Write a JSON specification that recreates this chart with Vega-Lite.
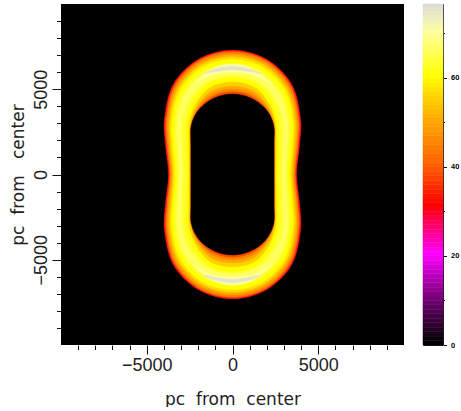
{"$schema":"https://vega.github.io/schema/vega-lite/v6.json","padding":{"left":9,"top":3,"right":0,"bottom":0},"background":"white","spacing":18,
"config":{"concat":{"spacing":18},"axis":{"grid":false,"domain":false,"labelFont":"Liberation Sans","titleFont":"DejaVu Sans","titleFontWeight":"normal","labelColor":"#222","titleColor":"#222","tickColor":"#111"}},
"hconcat":[
{"width":343,"height":341,"view":{"fill":"black","stroke":null},
"data":{"values":[
{"c":1,"v":28,"o":0,"x":3730,"y":0},{"c":1,"v":28,"o":1,"x":3910,"y":1750},{"c":1,"v":28,"o":2,"x":3960,"y":3320},{"c":1,"v":28,"o":3,"x":3440,"y":5310},{"c":1,"v":28,"o":4,"x":1980,"y":6760},{"c":1,"v":28,"o":5,"x":0,"y":7290},{"c":1,"v":28,"o":6,"x":-1980,"y":6760},{"c":1,"v":28,"o":7,"x":-3440,"y":5310},{"c":1,"v":28,"o":8,"x":-3960,"y":3320},{"c":1,"v":28,"o":9,"x":-3910,"y":1750},{"c":1,"v":28,"o":10,"x":-3730,"y":0},{"c":1,"v":28,"o":11,"x":-3910,"y":-1750},{"c":1,"v":28,"o":12,"x":-3960,"y":-3320},{"c":1,"v":28,"o":13,"x":-3440,"y":-5310},{"c":1,"v":28,"o":14,"x":-1980,"y":-6760},{"c":1,"v":28,"o":15,"x":0,"y":-7290},{"c":1,"v":28,"o":16,"x":1980,"y":-6760},{"c":1,"v":28,"o":17,"x":3440,"y":-5310},{"c":1,"v":28,"o":18,"x":3960,"y":-3320},{"c":1,"v":28,"o":19,"x":3910,"y":-1750},
{"c":2,"v":36,"o":0,"x":3690,"y":0},{"c":2,"v":36,"o":1,"x":3865,"y":1750},{"c":2,"v":36,"o":2,"x":3913,"y":3308},{"c":2,"v":36,"o":3,"x":3404,"y":5275},{"c":2,"v":36,"o":4,"x":1966,"y":6726},{"c":2,"v":36,"o":5,"x":0,"y":7251},{"c":2,"v":36,"o":6,"x":-1966,"y":6726},{"c":2,"v":36,"o":7,"x":-3404,"y":5275},{"c":2,"v":36,"o":8,"x":-3913,"y":3308},{"c":2,"v":36,"o":9,"x":-3865,"y":1750},{"c":2,"v":36,"o":10,"x":-3690,"y":0},{"c":2,"v":36,"o":11,"x":-3865,"y":-1750},{"c":2,"v":36,"o":12,"x":-3913,"y":-3308},{"c":2,"v":36,"o":13,"x":-3404,"y":-5275},{"c":2,"v":36,"o":14,"x":-1966,"y":-6726},{"c":2,"v":36,"o":15,"x":0,"y":-7251},{"c":2,"v":36,"o":16,"x":1966,"y":-6726},{"c":2,"v":36,"o":17,"x":3404,"y":-5275},{"c":2,"v":36,"o":18,"x":3913,"y":-3308},{"c":2,"v":36,"o":19,"x":3865,"y":-1750},
{"c":3,"v":44,"o":0,"x":3638,"y":0},{"c":3,"v":44,"o":1,"x":3806,"y":1750},{"c":3,"v":44,"o":2,"x":3850,"y":3292},{"c":3,"v":44,"o":3,"x":3352,"y":5225},{"c":3,"v":44,"o":4,"x":1943,"y":6669},{"c":3,"v":44,"o":5,"x":0,"y":7187},{"c":3,"v":44,"o":6,"x":-1943,"y":6669},{"c":3,"v":44,"o":7,"x":-3352,"y":5225},{"c":3,"v":44,"o":8,"x":-3850,"y":3292},{"c":3,"v":44,"o":9,"x":-3806,"y":1750},{"c":3,"v":44,"o":10,"x":-3638,"y":0},{"c":3,"v":44,"o":11,"x":-3806,"y":-1750},{"c":3,"v":44,"o":12,"x":-3850,"y":-3292},{"c":3,"v":44,"o":13,"x":-3352,"y":-5225},{"c":3,"v":44,"o":14,"x":-1943,"y":-6669},{"c":3,"v":44,"o":15,"x":0,"y":-7187},{"c":3,"v":44,"o":16,"x":1943,"y":-6669},{"c":3,"v":44,"o":17,"x":3352,"y":-5225},{"c":3,"v":44,"o":18,"x":3850,"y":-3292},{"c":3,"v":44,"o":19,"x":3806,"y":-1750},
{"c":4,"v":50,"o":0,"x":3560,"y":0},{"c":4,"v":50,"o":1,"x":3716,"y":1750},{"c":4,"v":50,"o":2,"x":3756,"y":3268},{"c":4,"v":50,"o":3,"x":3267,"y":5144},{"c":4,"v":50,"o":4,"x":1896,"y":6556},{"c":4,"v":50,"o":5,"x":0,"y":7059},{"c":4,"v":50,"o":6,"x":-1896,"y":6556},{"c":4,"v":50,"o":7,"x":-3267,"y":5144},{"c":4,"v":50,"o":8,"x":-3756,"y":3268},{"c":4,"v":50,"o":9,"x":-3716,"y":1750},{"c":4,"v":50,"o":10,"x":-3560,"y":0},{"c":4,"v":50,"o":11,"x":-3716,"y":-1750},{"c":4,"v":50,"o":12,"x":-3756,"y":-3268},{"c":4,"v":50,"o":13,"x":-3267,"y":-5144},{"c":4,"v":50,"o":14,"x":-1896,"y":-6556},{"c":4,"v":50,"o":15,"x":0,"y":-7059},{"c":4,"v":50,"o":16,"x":1896,"y":-6556},{"c":4,"v":50,"o":17,"x":3267,"y":-5144},{"c":4,"v":50,"o":18,"x":3756,"y":-3268},{"c":4,"v":50,"o":19,"x":3716,"y":-1750},
{"c":5,"v":56,"o":0,"x":3468,"y":0},{"c":5,"v":56,"o":1,"x":3612,"y":1750},{"c":5,"v":56,"o":2,"x":3646,"y":3240},{"c":5,"v":56,"o":3,"x":3166,"y":5047},{"c":5,"v":56,"o":4,"x":1840,"y":6420},{"c":5,"v":56,"o":5,"x":0,"y":6905},{"c":5,"v":56,"o":6,"x":-1840,"y":6420},{"c":5,"v":56,"o":7,"x":-3166,"y":5047},{"c":5,"v":56,"o":8,"x":-3646,"y":3240},{"c":5,"v":56,"o":9,"x":-3612,"y":1750},{"c":5,"v":56,"o":10,"x":-3468,"y":0},{"c":5,"v":56,"o":11,"x":-3612,"y":-1750},{"c":5,"v":56,"o":12,"x":-3646,"y":-3240},{"c":5,"v":56,"o":13,"x":-3166,"y":-5047},{"c":5,"v":56,"o":14,"x":-1840,"y":-6420},{"c":5,"v":56,"o":15,"x":0,"y":-6905},{"c":5,"v":56,"o":16,"x":1840,"y":-6420},{"c":5,"v":56,"o":17,"x":3166,"y":-5047},{"c":5,"v":56,"o":18,"x":3646,"y":-3240},{"c":5,"v":56,"o":19,"x":3612,"y":-1750},
{"c":6,"v":60,"o":0,"x":3363,"y":0},{"c":6,"v":60,"o":1,"x":3493,"y":1750},{"c":6,"v":60,"o":2,"x":3520,"y":3208},{"c":6,"v":60,"o":3,"x":3060,"y":4945},{"c":6,"v":60,"o":4,"x":1785,"y":6283},{"c":6,"v":60,"o":5,"x":0,"y":6750},{"c":6,"v":60,"o":6,"x":-1785,"y":6283},{"c":6,"v":60,"o":7,"x":-3060,"y":4945},{"c":6,"v":60,"o":8,"x":-3520,"y":3208},{"c":6,"v":60,"o":9,"x":-3493,"y":1750},{"c":6,"v":60,"o":10,"x":-3363,"y":0},{"c":6,"v":60,"o":11,"x":-3493,"y":-1750},{"c":6,"v":60,"o":12,"x":-3520,"y":-3208},{"c":6,"v":60,"o":13,"x":-3060,"y":-4945},{"c":6,"v":60,"o":14,"x":-1785,"y":-6283},{"c":6,"v":60,"o":15,"x":0,"y":-6750},{"c":6,"v":60,"o":16,"x":1785,"y":-6283},{"c":6,"v":60,"o":17,"x":3060,"y":-4945},{"c":6,"v":60,"o":18,"x":3520,"y":-3208},{"c":6,"v":60,"o":19,"x":3493,"y":-1750},
{"c":7,"v":63,"o":0,"x":3232,"y":0},{"c":7,"v":63,"o":1,"x":3344,"y":1750},{"c":7,"v":63,"o":2,"x":3363,"y":3168},{"c":7,"v":63,"o":3,"x":2908,"y":4799},{"c":7,"v":63,"o":4,"x":1701,"y":6079},{"c":7,"v":63,"o":5,"x":0,"y":6519},{"c":7,"v":63,"o":6,"x":-1701,"y":6079},{"c":7,"v":63,"o":7,"x":-2908,"y":4799},{"c":7,"v":63,"o":8,"x":-3363,"y":3168},{"c":7,"v":63,"o":9,"x":-3344,"y":1750},{"c":7,"v":63,"o":10,"x":-3232,"y":0},{"c":7,"v":63,"o":11,"x":-3344,"y":-1750},{"c":7,"v":63,"o":12,"x":-3363,"y":-3168},{"c":7,"v":63,"o":13,"x":-2908,"y":-4799},{"c":7,"v":63,"o":14,"x":-1701,"y":-6079},{"c":7,"v":63,"o":15,"x":0,"y":-6519},{"c":7,"v":63,"o":16,"x":1701,"y":-6079},{"c":7,"v":63,"o":17,"x":2908,"y":-4799},{"c":7,"v":63,"o":18,"x":3363,"y":-3168},{"c":7,"v":63,"o":19,"x":3344,"y":-1750},
{"c":8,"v":66,"o":0,"x":3114,"y":0},{"c":8,"v":66,"o":1,"x":3210,"y":1750},{"c":8,"v":66,"o":2,"x":3222,"y":3132},{"c":8,"v":66,"o":3,"x":2786,"y":4682},{"c":8,"v":66,"o":4,"x":1627,"y":5897},{"c":8,"v":66,"o":5,"x":0,"y":6313},{"c":8,"v":66,"o":6,"x":-1627,"y":5897},{"c":8,"v":66,"o":7,"x":-2786,"y":4682},{"c":8,"v":66,"o":8,"x":-3222,"y":3132},{"c":8,"v":66,"o":9,"x":-3210,"y":1750},{"c":8,"v":66,"o":10,"x":-3114,"y":0},{"c":8,"v":66,"o":11,"x":-3210,"y":-1750},{"c":8,"v":66,"o":12,"x":-3222,"y":-3132},{"c":8,"v":66,"o":13,"x":-2786,"y":-4682},{"c":8,"v":66,"o":14,"x":-1627,"y":-5897},{"c":8,"v":66,"o":15,"x":0,"y":-6313},{"c":8,"v":66,"o":16,"x":1627,"y":-5897},{"c":8,"v":66,"o":17,"x":2786,"y":-4682},{"c":8,"v":66,"o":18,"x":3222,"y":-3132},{"c":8,"v":66,"o":19,"x":3210,"y":-1750},
{"c":9,"v":63,"o":0,"x":2865,"y":0},{"c":9,"v":63,"o":1,"x":2927,"y":1750},{"c":9,"v":63,"o":2,"x":2924,"y":3056},{"c":9,"v":63,"o":3,"x":2482,"y":4390},{"c":9,"v":63,"o":4,"x":1441,"y":5443},{"c":9,"v":63,"o":5,"x":0,"y":5799},{"c":9,"v":63,"o":6,"x":-1441,"y":5443},{"c":9,"v":63,"o":7,"x":-2482,"y":4390},{"c":9,"v":63,"o":8,"x":-2924,"y":3056},{"c":9,"v":63,"o":9,"x":-2927,"y":1750},{"c":9,"v":63,"o":10,"x":-2865,"y":0},{"c":9,"v":63,"o":11,"x":-2927,"y":-1750},{"c":9,"v":63,"o":12,"x":-2924,"y":-3056},{"c":9,"v":63,"o":13,"x":-2482,"y":-4390},{"c":9,"v":63,"o":14,"x":-1441,"y":-5443},{"c":9,"v":63,"o":15,"x":0,"y":-5799},{"c":9,"v":63,"o":16,"x":1441,"y":-5443},{"c":9,"v":63,"o":17,"x":2482,"y":-4390},{"c":9,"v":63,"o":18,"x":2924,"y":-3056},{"c":9,"v":63,"o":19,"x":2927,"y":-1750},
{"c":10,"v":60,"o":0,"x":2656,"y":0},{"c":10,"v":60,"o":1,"x":2688,"y":1750},{"c":10,"v":60,"o":2,"x":2673,"y":2992},{"c":10,"v":60,"o":3,"x":2315,"y":4230},{"c":10,"v":60,"o":4,"x":1394,"y":5330},{"c":10,"v":60,"o":5,"x":0,"y":5671},{"c":10,"v":60,"o":6,"x":-1394,"y":5330},{"c":10,"v":60,"o":7,"x":-2315,"y":4230},{"c":10,"v":60,"o":8,"x":-2673,"y":2992},{"c":10,"v":60,"o":9,"x":-2688,"y":1750},{"c":10,"v":60,"o":10,"x":-2656,"y":0},{"c":10,"v":60,"o":11,"x":-2688,"y":-1750},{"c":10,"v":60,"o":12,"x":-2673,"y":-2992},{"c":10,"v":60,"o":13,"x":-2315,"y":-4230},{"c":10,"v":60,"o":14,"x":-1394,"y":-5330},{"c":10,"v":60,"o":15,"x":0,"y":-5671},{"c":10,"v":60,"o":16,"x":1394,"y":-5330},{"c":10,"v":60,"o":17,"x":2315,"y":-4230},{"c":10,"v":60,"o":18,"x":2673,"y":-2992},{"c":10,"v":60,"o":19,"x":2688,"y":-1750},
{"c":11,"v":55,"o":0,"x":2525,"y":0},{"c":11,"v":55,"o":1,"x":2539,"y":1750},{"c":11,"v":55,"o":2,"x":2516,"y":2952},{"c":11,"v":55,"o":3,"x":2163,"y":4084},{"c":11,"v":55,"o":4,"x":1301,"y":5103},{"c":11,"v":55,"o":5,"x":0,"y":5414},{"c":11,"v":55,"o":6,"x":-1301,"y":5103},{"c":11,"v":55,"o":7,"x":-2163,"y":4084},{"c":11,"v":55,"o":8,"x":-2516,"y":2952},{"c":11,"v":55,"o":9,"x":-2539,"y":1750},{"c":11,"v":55,"o":10,"x":-2525,"y":0},{"c":11,"v":55,"o":11,"x":-2539,"y":-1750},{"c":11,"v":55,"o":12,"x":-2516,"y":-2952},{"c":11,"v":55,"o":13,"x":-2163,"y":-4084},{"c":11,"v":55,"o":14,"x":-1301,"y":-5103},{"c":11,"v":55,"o":15,"x":0,"y":-5414},{"c":11,"v":55,"o":16,"x":1301,"y":-5103},{"c":11,"v":55,"o":17,"x":2163,"y":-4084},{"c":11,"v":55,"o":18,"x":2516,"y":-2952},{"c":11,"v":55,"o":19,"x":2539,"y":-1750},
{"c":12,"v":50,"o":0,"x":2459,"y":0},{"c":12,"v":50,"o":1,"x":2465,"y":1750},{"c":12,"v":50,"o":2,"x":2437,"y":2932},{"c":12,"v":50,"o":3,"x":2057,"y":3981},{"c":12,"v":50,"o":4,"x":1217,"y":4899},{"c":12,"v":50,"o":5,"x":0,"y":5183},{"c":12,"v":50,"o":6,"x":-1217,"y":4899},{"c":12,"v":50,"o":7,"x":-2057,"y":3981},{"c":12,"v":50,"o":8,"x":-2437,"y":2932},{"c":12,"v":50,"o":9,"x":-2465,"y":1750},{"c":12,"v":50,"o":10,"x":-2459,"y":0},{"c":12,"v":50,"o":11,"x":-2465,"y":-1750},{"c":12,"v":50,"o":12,"x":-2437,"y":-2932},{"c":12,"v":50,"o":13,"x":-2057,"y":-3981},{"c":12,"v":50,"o":14,"x":-1217,"y":-4899},{"c":12,"v":50,"o":15,"x":0,"y":-5183},{"c":12,"v":50,"o":16,"x":1217,"y":-4899},{"c":12,"v":50,"o":17,"x":2057,"y":-3981},{"c":12,"v":50,"o":18,"x":2437,"y":-2932},{"c":12,"v":50,"o":19,"x":2465,"y":-1750},
{"c":13,"v":45,"o":0,"x":2433,"y":0},{"c":13,"v":45,"o":1,"x":2435,"y":1750},{"c":13,"v":45,"o":2,"x":2405,"y":2924},{"c":13,"v":45,"o":3,"x":1996,"y":3923},{"c":13,"v":45,"o":4,"x":1152,"y":4740},{"c":13,"v":45,"o":5,"x":0,"y":5003},{"c":13,"v":45,"o":6,"x":-1152,"y":4740},{"c":13,"v":45,"o":7,"x":-1996,"y":3923},{"c":13,"v":45,"o":8,"x":-2405,"y":2924},{"c":13,"v":45,"o":9,"x":-2435,"y":1750},{"c":13,"v":45,"o":10,"x":-2433,"y":0},{"c":13,"v":45,"o":11,"x":-2435,"y":-1750},{"c":13,"v":45,"o":12,"x":-2405,"y":-2924},{"c":13,"v":45,"o":13,"x":-1996,"y":-3923},{"c":13,"v":45,"o":14,"x":-1152,"y":-4740},{"c":13,"v":45,"o":15,"x":0,"y":-5003},{"c":13,"v":45,"o":16,"x":1152,"y":-4740},{"c":13,"v":45,"o":17,"x":1996,"y":-3923},{"c":13,"v":45,"o":18,"x":2405,"y":-2924},{"c":13,"v":45,"o":19,"x":2435,"y":-1750},
{"c":14,"v":38,"o":0,"x":2425,"y":0},{"c":14,"v":38,"o":1,"x":2425,"y":1750},{"c":14,"v":38,"o":2,"x":2397,"y":2922},{"c":14,"v":38,"o":3,"x":1950,"y":3879},{"c":14,"v":38,"o":4,"x":1096,"y":4603},{"c":14,"v":38,"o":5,"x":0,"y":4849},{"c":14,"v":38,"o":6,"x":-1096,"y":4603},{"c":14,"v":38,"o":7,"x":-1950,"y":3879},{"c":14,"v":38,"o":8,"x":-2397,"y":2922},{"c":14,"v":38,"o":9,"x":-2425,"y":1750},{"c":14,"v":38,"o":10,"x":-2425,"y":0},{"c":14,"v":38,"o":11,"x":-2425,"y":-1750},{"c":14,"v":38,"o":12,"x":-2397,"y":-2922},{"c":14,"v":38,"o":13,"x":-1950,"y":-3879},{"c":14,"v":38,"o":14,"x":-1096,"y":-4603},{"c":14,"v":38,"o":15,"x":0,"y":-4849},{"c":14,"v":38,"o":16,"x":1096,"y":-4603},{"c":14,"v":38,"o":17,"x":1950,"y":-3879},{"c":14,"v":38,"o":18,"x":2397,"y":-2922},{"c":14,"v":38,"o":19,"x":2425,"y":-1750},
{"c":15,"v":0,"o":0,"x":2420,"y":0},{"c":15,"v":0,"o":1,"x":2420,"y":1750},{"c":15,"v":0,"o":2,"x":2390,"y":2920},{"c":15,"v":0,"o":3,"x":1920,"y":3850},{"c":15,"v":0,"o":4,"x":1050,"y":4490},{"c":15,"v":0,"o":5,"x":0,"y":4720},{"c":15,"v":0,"o":6,"x":-1050,"y":4490},{"c":15,"v":0,"o":7,"x":-1920,"y":3850},{"c":15,"v":0,"o":8,"x":-2390,"y":2920},{"c":15,"v":0,"o":9,"x":-2420,"y":1750},{"c":15,"v":0,"o":10,"x":-2420,"y":0},{"c":15,"v":0,"o":11,"x":-2420,"y":-1750},{"c":15,"v":0,"o":12,"x":-2390,"y":-2920},{"c":15,"v":0,"o":13,"x":-1920,"y":-3850},{"c":15,"v":0,"o":14,"x":-1050,"y":-4490},{"c":15,"v":0,"o":15,"x":0,"y":-4720},{"c":15,"v":0,"o":16,"x":1050,"y":-4490},{"c":15,"v":0,"o":17,"x":1920,"y":-3850},{"c":15,"v":0,"o":18,"x":2390,"y":-2920},{"c":15,"v":0,"o":19,"x":2420,"y":-1750},
{"c":18,"v":70,"o":0,"x":2300,"y":5300},{"c":18,"v":70,"o":1,"x":1200,"y":6180},{"c":18,"v":70,"o":2,"x":0,"y":6480},{"c":18,"v":70,"o":3,"x":-1200,"y":6180},{"c":18,"v":70,"o":4,"x":-2300,"y":5300},{"c":18,"v":70,"o":5,"x":-1200,"y":5880},{"c":18,"v":70,"o":6,"x":0,"y":6000},{"c":18,"v":70,"o":7,"x":1200,"y":5880},
{"c":19,"v":70,"o":0,"x":2300,"y":-5300},{"c":19,"v":70,"o":1,"x":1200,"y":-6180},{"c":19,"v":70,"o":2,"x":0,"y":-6480},{"c":19,"v":70,"o":3,"x":-1200,"y":-6180},{"c":19,"v":70,"o":4,"x":-2300,"y":-5300},{"c":19,"v":70,"o":5,"x":-1200,"y":-5880},{"c":19,"v":70,"o":6,"x":0,"y":-6000},{"c":19,"v":70,"o":7,"x":1200,"y":-5880},
{"c":16,"v":75,"o":0,"x":1680,"y":5920},{"c":16,"v":75,"o":1,"x":900,"y":6220},{"c":16,"v":75,"o":2,"x":0,"y":6350},{"c":16,"v":75,"o":3,"x":-900,"y":6220},{"c":16,"v":75,"o":4,"x":-1680,"y":5920},{"c":16,"v":75,"o":5,"x":-900,"y":6050},{"c":16,"v":75,"o":6,"x":0,"y":6150},{"c":16,"v":75,"o":7,"x":900,"y":6050},
{"c":17,"v":75,"o":0,"x":1600,"y":-5920},{"c":17,"v":75,"o":1,"x":900,"y":-6220},{"c":17,"v":75,"o":2,"x":0,"y":-6350},{"c":17,"v":75,"o":3,"x":-900,"y":-6220},{"c":17,"v":75,"o":4,"x":-1680,"y":-5920},{"c":17,"v":75,"o":5,"x":-900,"y":-6050},{"c":17,"v":75,"o":6,"x":0,"y":-6150},{"c":17,"v":75,"o":7,"x":900,"y":-6050}
]},
"mark":{"type":"line","interpolate":"cardinal-closed","strokeWidth":0.5,"clip":true},
"encoding":{
"x":{"field":"x","type":"quantitative","scale":{"domain":[-10000,10000],"nice":false,"zero":false},"axis":{"title":"pc\u00a0 from\u00a0 center","titleFontSize":17,"titlePadding":17,"values":[-9000,-8000,-7000,-6000,-5000,-4000,-3000,-2000,-1000,0,1000,2000,3000,4000,5000,6000,7000,8000,9000],"format":"d","labelExpr":"datum.value % 5000 == 0 ? datum.label : ''","labelFontSize":18,"labelPadding":2,"labelOverlap":false,"tickSize":{"expr":"datum.value % 5000 == 0 ? 9 : 4.5"},"tickWidth":1}},
"y":{"field":"y","type":"quantitative","scale":{"domain":[-10000,10000],"nice":false,"zero":false},"axis":{"title":"pc\u00a0 from\u00a0\u00a0 center","titleFontSize":17,"titlePadding":5,"values":[-9000,-8000,-7000,-6000,-5000,-4000,-3000,-2000,-1000,0,1000,2000,3000,4000,5000,6000,7000,8000,9000],"format":"d","labelExpr":"datum.value % 5000 == 0 ? datum.label : ''","labelFontSize":18,"labelAngle":-90,"labelAlign":"center","labelBaseline":"bottom","labelPadding":2,"labelOverlap":false,"tickSize":{"expr":"datum.value % 5000 == 0 ? 9 : 4.5"},"tickWidth":1}},
"order":{"field":"o","type":"quantitative"},
"detail":{"field":"c","type":"nominal"},
"fill":{"field":"v","type":"quantitative","legend":null,"scale":{"domain":[0,10,20,31,40,50,55,60,70,73,76.6],"range":["#000000","#750075","#ff00ff","#ff0000","#ff6000","#ffa800","#ffd000","#ffff00","#ffffa0","#eeeec0","#d8d8d8"],"interpolate":"rgb"}},
"stroke":{"field":"v","type":"quantitative","legend":null,"scale":{"domain":[0,10,20,31,40,50,55,60,70,73,76.6],"range":["#000000","#750075","#ff00ff","#ff0000","#ff6000","#ffa800","#ffd000","#ffff00","#ffffa0","#eeeec0","#d8d8d8"],"interpolate":"rgb"}}
}},
{"width":20,"height":341,"view":{"stroke":"#222"},
"data":{"values":[{"v":0,"w":1},{"v":1,"w":2},{"v":2,"w":3},{"v":3,"w":4},{"v":4,"w":5},{"v":5,"w":6},{"v":6,"w":7},{"v":7,"w":8},{"v":8,"w":9},{"v":9,"w":10},{"v":10,"w":11},{"v":11,"w":12},{"v":12,"w":13},{"v":13,"w":14},{"v":14,"w":15},{"v":15,"w":16},{"v":16,"w":17},{"v":17,"w":18},{"v":18,"w":19},{"v":19,"w":20},{"v":20,"w":21},{"v":21,"w":22},{"v":22,"w":23},{"v":23,"w":24},{"v":24,"w":25},{"v":25,"w":26},{"v":26,"w":27},{"v":27,"w":28},{"v":28,"w":29},{"v":29,"w":30},{"v":30,"w":31},{"v":31,"w":32},{"v":32,"w":33},{"v":33,"w":34},{"v":34,"w":35},{"v":35,"w":36},{"v":36,"w":37},{"v":37,"w":38},{"v":38,"w":39},{"v":39,"w":40},{"v":40,"w":41},{"v":41,"w":42},{"v":42,"w":43},{"v":43,"w":44},{"v":44,"w":45},{"v":45,"w":46},{"v":46,"w":47},{"v":47,"w":48},{"v":48,"w":49},{"v":49,"w":50},{"v":50,"w":51},{"v":51,"w":52},{"v":52,"w":53},{"v":53,"w":54},{"v":54,"w":55},{"v":55,"w":56},{"v":56,"w":57},{"v":57,"w":58},{"v":58,"w":59},{"v":59,"w":60},{"v":60,"w":61},{"v":61,"w":62},{"v":62,"w":63},{"v":63,"w":64},{"v":64,"w":65},{"v":65,"w":66},{"v":66,"w":67},{"v":67,"w":68},{"v":68,"w":69},{"v":69,"w":70},{"v":70,"w":71},{"v":71,"w":72},{"v":72,"w":73},{"v":73,"w":74},{"v":74,"w":75},{"v":75,"w":76},{"v":76,"w":76.6}]},
"mark":{"type":"rect","strokeWidth":0.5},
"encoding":{
"y":{"field":"v","type":"quantitative","scale":{"domain":[0,76.6],"nice":false,"zero":false},"axis":{"orient":"right","title":null,"values":[0,10,20,30,40,50,60,70],"labelExpr":"datum.value % 20 == 0 ? datum.label : ''","labelFont":"Liberation Sans","labelFontSize":7.5,"labelFontWeight":"bold","labelColor":"#000","labelPadding":4,"labelOverlap":false,"labelBound":false,"labelFlush":false,"tickSize":{"expr":"datum.value % 20 == 0 ? 3.5 : 1.5"},"tickWidth":1}},
"y2":{"field":"w"},
"fill":{"field":"v","type":"quantitative","legend":null,"scale":{"domain":[0,10,20,31,40,50,55,60,70,73,76.6],"range":["#000000","#750075","#ff00ff","#ff0000","#ff6000","#ffa800","#ffd000","#ffff00","#ffffa0","#eeeec0","#d8d8d8"],"interpolate":"rgb"}},
"stroke":{"field":"v","type":"quantitative","legend":null,"scale":{"domain":[0,10,20,31,40,50,55,60,70,73,76.6],"range":["#000000","#750075","#ff00ff","#ff0000","#ff6000","#ffa800","#ffd000","#ffff00","#ffffa0","#eeeec0","#d8d8d8"],"interpolate":"rgb"}}
}}
]}
